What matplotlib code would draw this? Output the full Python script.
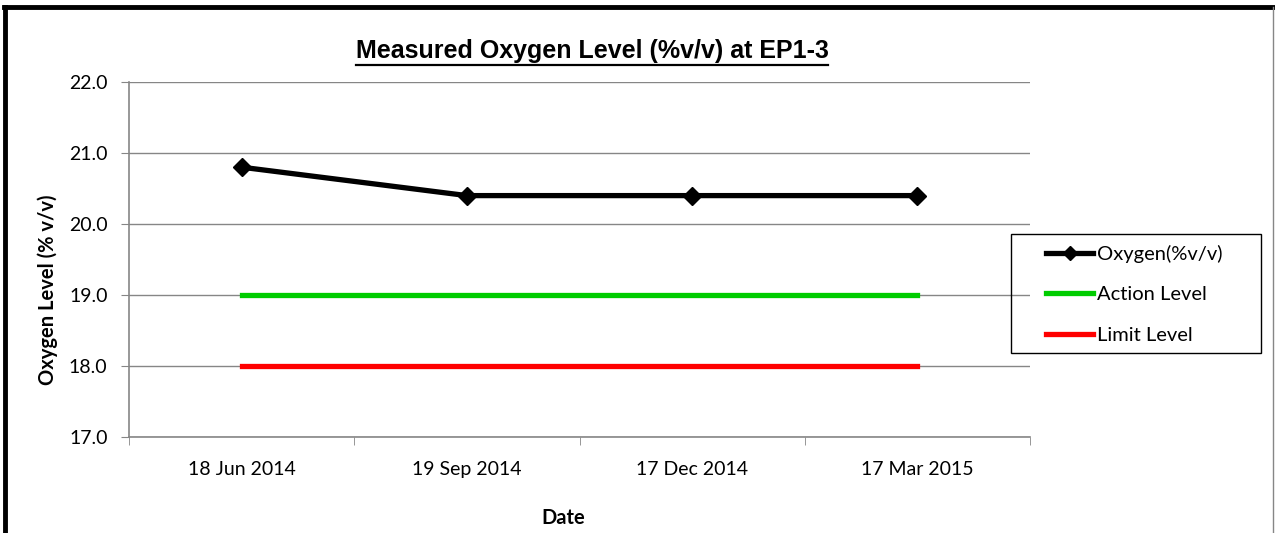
#Line chart of measured oxygen level at EP1-3 with action and limit levels

import matplotlib
matplotlib.use('Agg')
import matplotlib.pyplot as plt
from matplotlib.lines import Line2D
from matplotlib.patches import Rectangle
import numpy as np

dates = ['18 Jun 2014', '19 Sep 2014', '17 Dec 2014', '17 Mar 2015']
oxygen = [20.8, 20.4, 20.4, 20.4]
action_level = [19.0, 19.0, 19.0, 19.0]
limit_level = [18.0, 18.0, 18.0, 18.0]
y_ticks = [17.0, 18.0, 19.0, 20.0, 21.0, 22.0]

label_font = 'Lato'
W, H = 1275.0, 533.0

def fx(px):
    return px / W

def fy(py):
    return 1 - py / H

def main():
    fig = plt.figure(figsize=(12.75, 5.33), dpi=100)
    ax = fig.add_axes([fx(129), fy(437), 901/W, 355/H])

    index = np.arange(len(dates))
    ax.plot(index, oxygen, color='black', lw=3.8, marker='D', ms=9.5,
            label='Oxygen(%v/v)', zorder=5)
    ax.plot(index, action_level, color='#00cc00', lw=3.8,
            label='Action Level', zorder=4)
    ax.plot(index, limit_level, color='#ff0000', lw=3.8,
            label='Limit Level', zorder=4)

    ax.set_xlim(-0.5, len(dates) - 0.5)
    ax.set_ylim(17.0, 22.0)
    ax.set_yticks(y_ticks)
    ax.set_yticklabels(['%.1f' % v for v in y_ticks], fontsize=14,
                       family=label_font)
    ax.set_xticks(index)
    ax.set_xticklabels(dates, fontsize=14, family=label_font)
    ax.tick_params(axis='x', length=0, pad=17)
    # category boundaries carry the tick marks
    ax.set_xticks(np.arange(len(dates) + 1) - 0.5, minor=True)
    ax.tick_params(axis='x', which='minor', length=6, color='#868686',
                   direction='out')
    ax.tick_params(axis='y', length=6, color='#868686', pad=9.5)

    ax.grid(axis='y', color='#868686', lw=1)
    ax.set_axisbelow(True)
    for side in ['top', 'right']:
        ax.spines[side].set_visible(False)
    for side in ['left', 'bottom']:
        ax.spines[side].set_color('#868686')
        ax.spines[side].set_linewidth(1.2)

    fig.text(fx(563), fy(518), 'Date', ha='center', va='center',
             fontsize=14.5, fontweight='bold', family=label_font)
    fig.text(fx(48), fy(290), 'Oxygen Level (% v/v)', ha='center',
             va='center', rotation=90, fontsize=14.5, fontweight='bold',
             family=label_font)

    title = fig.text(fx(592), fy(51), 'Measured Oxygen Level (%v/v) at EP1-3',
                     ha='center', va='center', fontsize=18,
                     fontweight='bold', family='Liberation Sans')

    leg = fig.legend(loc='upper left', bbox_to_anchor=(fx(1046), fy(245)),
                     prop={'family': label_font, 'size': 14.5},
                     frameon=False, handlelength=2.35, handletextpad=0.2,
                     labelspacing=1.15, borderpad=0, borderaxespad=0,
                     markerscale=0.75)
    fig.add_artist(Rectangle((fx(1011), fy(353)), 250/W, 119/H,
                             fill=False, edgecolor='black', lw=1.0,
                             transform=fig.transFigure))

    # underline the title
    fig.canvas.draw()
    bb = title.get_window_extent().transformed(fig.transFigure.inverted())
    fig.add_artist(Line2D([bb.x0, bb.x1], [fy(65), fy(65)],
                          color='black', lw=1.6, transform=fig.transFigure))

    # outer chart border
    fig.add_artist(Line2D([fx(5), fx(5)], [0, fy(7)], color='black',
                          lw=3.5, transform=fig.transFigure))
    fig.add_artist(Line2D([fx(4), 1], [fy(7), fy(7)], color='black',
                          lw=3.5, transform=fig.transFigure))
    fig.add_artist(Line2D([fx(1273), fx(1273)], [0, fy(7)],
                          color='#868686', lw=1, transform=fig.transFigure))

    fig.savefig('out.png', dpi=100)

main()
